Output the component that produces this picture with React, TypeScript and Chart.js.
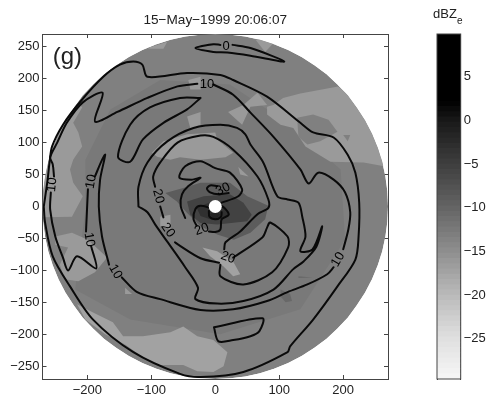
import React, { useEffect, useRef } from "react";
import { Chart, registerables } from "chart.js";

Chart.register(...registerables);

type P = [number, number];

const titleText = "15\u2212May\u22121999 20:06:07";
const panelLabel = "(g)";
const colorbarTitle = "dBZ";
const colorbarSub = "e";

const xTickValues = [-200, -100, 0, 100, 200];
const yTickValues = [-250, -200, -150, -100, -50, 0, 50, 100, 150, 200, 250];
const colorbarTickValues = [-25, -20, -15, -10, -5, 0, 5];

const discEdge: P[] = [
  [270, 0], [269, 24], [266, 47], [261, 70], [254, 92], [245, 114], [234, 135], [221, 155], [207, 174], [191, 191], [174, 207], [155, 221], [135, 234], [114, 245], [92, 254], [70, 261], [47, 266], [24, 269],
  [0, 270], [-24, 269], [-47, 266], [-70, 261], [-92, 254], [-114, 245], [-135, 234], [-155, 221], [-174, 207], [-191, 191], [-207, 174], [-221, 155], [-234, 135], [-245, 114], [-254, 92], [-261, 70], [-266, 47], [-269, 24],
  [-270, 0], [-269, -24], [-266, -47], [-261, -70], [-254, -92], [-245, -114], [-234, -135], [-221, -155], [-207, -174], [-191, -191], [-174, -207], [-155, -221], [-135, -234], [-114, -245], [-92, -254], [-70, -261], [-47, -266], [-24, -269],
  [0, -270], [24, -269], [47, -266], [70, -261], [92, -254], [114, -245], [135, -234], [155, -221], [174, -207], [191, -191], [207, -174], [221, -155], [234, -135], [245, -114], [254, -92], [261, -70], [266, -47], [269, -24],
];
const interiorZone: P[] = [
  [-203, 73], [-164, 152], [-86, 198], [23, 191], [117, 128], [196, 58], [203, -52], [133, -161], [8, -200], [-133, -177], [-219, -130], [-203, -5],
];
const lightUpperLeft: P[] = [
  [-211, 159], [-208, 155], [-222, 131], [-214, 116], [-208, 94], [-219, 78], [-222, 73], [-227, 58], [-222, 37], [-207, 16], [-224, -16], [-270, -17], [-270, 27], [-265, 73], [-245, 122],
];
const lightLowerLeft: P[] = [
  [-250, -47], [-224, -41], [-199, -52], [-169, -80], [-188, -103], [-214, -117], [-235, -114], [-243, -91], [-230, -64], [-250, -60],
];
const lightBottomBand: P[] = [
  [-216, -153], [-191, -166], [-160, -181], [-144, -203], [-113, -203], [-70, -197], [-50, -188], [-28, -203], [-3, -209], [19, -228], [13, -250], [-3, -259], [-28, -258], [-50, -248], [-91, -248], [-113, -236], [-141, -216], [-172, -200], [-203, -177],
];
const lightTopLeftChip: P[] = [[-106, 248], [-75, 258], [-81, 247], [-102, 247]];
const lightTopRightChip: P[] = [[63, 261], [78, 264], [91, 256], [78, 242]];
const lightMidPatch: P[] = [[20, 148], [44, 159], [66, 178], [81, 159], [55, 156], [42, 128]];
const lightRightBand: P[] = [
  [81, 156], [91, 159], [106, 170], [133, 177], [192, 188], [227, 163], [254, 105], [264, 63], [232, 69], [180, 70], [141, 94], [122, 123], [102, 128], [81, 144],
];
const rightBandHole: P[] = [[128, 139], [153, 144], [177, 136], [191, 117], [164, 102], [144, 97], [130, 109]];
const rightBandChip: P[] = [[200, 112], [211, 112], [207, 102]];
const lightArc: P[] = [
  [-99, 84], [-81, 102], [-44, 113], [0, 116], [3, 105], [28, 84], [16, 77], [-23, 73], [-55, 77], [-70, 73], [-91, 78],
];
const lightChipA: P[] = [[-44, 141], [-23, 148], [-23, 125], [-39, 123]];
const lightChipB: P[] = [[-42, 198], [-23, 203], [-23, 183], [-39, 183]];
const lightChipC: P[] = [[36, 62], [52, 47], [39, 50]];
const lightStreak: P[] = [[-20, -64], [3, -70], [28, -86], [39, -106], [28, -109], [13, -94], [-8, -78]];
const lightChipD: P[] = [[-86, -16], [-70, -13], [-70, -36], [-86, -31]];
const lightChipE: P[] = [[-141, -127], [-130, -137], [-141, -137]];
const darkSpeck: P[] = [[102, -130], [117, -137], [120, -148], [110, -150], [102, -141]];
const darkSliver: P[] = [[130, -109], [152, -111], [130, -112]];
const coreOuter: P[] = [
  [-78, 21], [-50, 29], [-23, 37], [23, 37], [50, 16], [83, 1], [78, -20], [55, -41], [29, -52], [3, -44], [-23, -31], [-44, -10], [-60, 8],
];
const coreMid: P[] = [[-44, 8], [-18, 16], [23, 19], [44, 6], [57, -13], [50, -23], [3, -28], [-23, -26], [-39, -13]];
const coreInner: P[] = [[-29, -2], [-10, 6], [13, 1], [23, -13], [10, -20], [-8, -20], [-23, -15]];
const coreDot: P[] = [[-9, -13], [0, -7], [8, -13], [0, -20]];

const contourOuter: P[] = [
  [-268, 0], [-262, 42], [-259, 69], [-255, 94], [-238, 128], [-211, 164], [-175, 203], [-149, 222], [-128, 227], [-114, 222], [-106, 203], [-44, 209], [8, 206], [28, 198], [81, 172], [133, 131], [153, 116], [185, 108], [207, 81], [219, 53], [225, 6], [224, -47], [219, -83], [191, -125], [153, -177], [117, -219], [113, -228], [44, -259], [-23, -267], [-55, -262], [-128, -228], [-191, -177], [-227, -125], [-254, -78], [-266, -25], [-268, 0],
];
const contour10a: P[] = [
  [-28, 192], [-59, 188], [-106, 170], [-153, 148], [-188, 133], [-176, 178], [-207, 163], [-232, 131], [-247, 100], [-258, 77], [-254, 66], [-252, 47],
];
const contour10b: P[] = [[-257, 22], [-258, -5], [-250, -47], [-238, -80], [-230, -100], [-216, -78], [-186, -97], [-194, -62]];
const contour10c: P[] = [[-202, -39], [-199, 27]];
const contour10d: P[] = [[-188, 47], [-177, 73], [-172, 81], [-180, 42], [-182, 0], [-177, -47], [-166, -91]];
const contour10e: P[] = [
  [-146, -111], [-122, -134], [-86, -145], [-23, -162], [28, -161], [81, -148], [113, -134], [144, -122], [175, -106], [185, -95],
];
const contour10f: P[] = [
  [200, -67], [208, -36], [211, -9], [203, 22], [185, 42], [161, 53], [146, 36], [133, 58], [91, 109], [55, 147], [28, 175], [-3, 191],
];
const contourCrescent: P[] = [
  [-23, 170], [-55, 170], [-102, 155], [-133, 128], [-152, 78], [-133, 70], [-113, 105], [-81, 131], [-44, 152], [-23, 170],
];
const contourBox: P[] = [[-2, -189], [74, -175], [69, -195], [55, -203], [28, -209], [5, -211], [-2, -189]];
const contourLens: P[] = [[27, 253], [55, 248], [108, 227], [55, 236], [19, 241], [-3, 242], [-31, 248], [-3, 254], [8, 253]];
const contour20Arc: P[] = [
  [-120, 0], [-120, 31], [-106, 69], [-75, 102], [-34, 123], [8, 128], [34, 123], [47, 113], [55, 97], [75, 69], [97, 16], [113, 11], [130, 6], [136, -16], [141, -47], [133, -70], [152, -67], [167, -31], [158, -63], [138, -86], [122, -98], [91, -130], [44, -148], [3, -152], [-31, -145], [-27, -127], [-47, -95], [-75, -55], [-94, -28], [-106, -9], [-120, 0],
];
const contour20a: P[] = [
  [14, -67], [16, -56], [39, -39], [66, -12], [83, -2], [83, 11], [66, 47], [28, 89], [-3, 109], [-23, 111], [-59, 100], [-86, 69], [-97, 47], [-94, 31],
];
const contour20b: P[] = [[-86, 0], [-81, -17]];
const contour20c: P[] = [[-63, -56], [-59, -59], [-23, -81], [6, -88]];
const contour20d: P[] = [[28, -80], [74, -48], [81, -33], [86, -25], [113, -47], [114, -64], [89, -103], [44, -122], [8, -109], [8, -91]];
const contourCore: P[] = [
  [-47, -18], [-54, 1], [-52, 19], [-42, 32], [-23, 45], [-37, 42], [-56, 45], [-47, 63], [-23, 71], [0, 60], [23, 53], [42, 27], [36, 16], [10, 6],
];
const contour30: P[] = [[3, 32], [-8, 33], [-13, 28], [-8, 22], [5, 19], [21, 21]];
const contourLowA: P[] = [[-8, -2], [-23, 1], [-31, -4], [-34, -20], [-29, -30]];
const contourLowB: P[] = [[-10, -39], [0, -40], [8, -36], [10, -20], [21, -13], [14, -2], [5, 3]];
const contourRing: P[] = [[-10, -7], [-9, -16], [0, -20], [9, -16], [10, -9]];
const centerPoint: P[] = [[0, 0]];

const labelTexts = ["0", "10", "10", "10", "10", "10", "10", "20", "20", "20", "20", "30"];
const labelX = [17, -13, -255, -194, -197, -156, 192, -89, -74, 20, -21, 12];
const labelY = [251, 191, 34, 39, -52, -102, -83, 16, -37, -80, -36, 27];
const labelAngle = [0, 0, -85, -80, 80, 60, -60, 75, 55, 20, -20, -25];

const barEdges = [
  -29.6, -29, -28.4, -27.8, -27.2, -26.6, -26, -25.4, -24.8, -24.2, -23.6, -23, -22.4, -21.8, -21.2, -20.6, -20, -19.4, -18.8, -18.2, -17.6, -17, -16.4, -15.8, -15.2, -14.6, -14, -13.4, -12.8, -12.2, -11.6, -11, -10.4, -9.8, -9.2, -8.6, -8, -7.4, -6.8, -6.2, -5.6, -5, -4.4, -3.8, -3.2, -2.6, -2, -1.4, -0.8, -0.2, 0.4, 1, 1.6, 2.2, 9.9,
];
const grayStops: P[] = [[-29.6, 246], [-25, 224], [-20, 186], [-15, 142], [-10, 100], [-5, 62], [0, 24], [2.2, 0], [9.9, 0]];

const BASE = "#808080";
const INTERIOR = "#797979";
const LIGHT = "#9a9a9a";
const LIGHTER = "#a2a2a2";

const regions: { pts: P[]; color: string }[] = [
  { pts: discEdge, color: BASE },
  { pts: interiorZone, color: INTERIOR },
  { pts: lightUpperLeft, color: LIGHT },
  { pts: lightLowerLeft, color: LIGHT },
  { pts: lightBottomBand, color: LIGHTER },
  { pts: lightTopLeftChip, color: LIGHT },
  { pts: lightTopRightChip, color: LIGHT },
  { pts: lightMidPatch, color: LIGHT },
  { pts: lightRightBand, color: LIGHT },
  { pts: rightBandHole, color: BASE },
  { pts: rightBandChip, color: BASE },
  { pts: lightArc, color: LIGHT },
  { pts: lightChipA, color: LIGHT },
  { pts: lightChipB, color: LIGHT },
  { pts: lightChipC, color: LIGHT },
  { pts: lightStreak, color: LIGHTER },
  { pts: lightChipD, color: LIGHT },
  { pts: lightChipE, color: LIGHT },
  { pts: darkSpeck, color: "#686868" },
  { pts: darkSliver, color: "#686868" },
  { pts: coreOuter, color: "#5c5c5c" },
  { pts: coreMid, color: "#424242" },
  { pts: coreInner, color: "#303030" },
  { pts: coreDot, color: "#242424" },
];

const contours: P[][] = [
  contourOuter, contour10a, contour10b, contour10c, contour10d, contour10e, contour10f, contourCrescent, contourBox, contourLens,
  contour20Arc, contour20a, contour20b, contour20c, contour20d, contourCore, contour30, contourLowA, contourLowB, contourRing,
];

const toXY = (pts: P[]) => pts.map(([x, y]) => ({ x, y }));
const FONT = "'Liberation Sans', Arial, sans-serif";
const minus = (v: number | string) => String(v).replace("-", "\u2212");

const grayAt = (v: number) => {
  for (let i = 1; i < grayStops.length; i++) {
    const [a, ga] = grayStops[i - 1];
    const [b, gb] = grayStops[i];
    if (v <= b) {
      const g = Math.round(ga + ((v - a) / (b - a)) * (gb - ga));
      return `rgb(${g},${g},${g})`;
    }
  }
  return "#000";
};

const polygonPlugin = {
  id: "polygonFill",
  beforeDatasetDraw(chart: any, args: any) {
    const ds = chart.data.datasets[args.index] as any;
    if (!ds.polygonColor) return;
    const pts = args.meta.data;
    const { ctx, scales } = chart;
    ctx.save();
    ctx.beginPath();
    discEdge.forEach(([x, y], i) => {
      const px = scales.x.getPixelForValue(x);
      const py = scales.y.getPixelForValue(y);
      if (i) ctx.lineTo(px, py);
      else ctx.moveTo(px, py);
    });
    ctx.closePath();
    ctx.clip();
    ctx.beginPath();
    pts.forEach((p: any, i: number) => (i ? ctx.lineTo(p.x, p.y) : ctx.moveTo(p.x, p.y)));
    ctx.closePath();
    ctx.fillStyle = ds.polygonColor;
    ctx.fill();
    ctx.restore();
  },
};

const labelPlugin = {
  id: "contourText",
  afterDatasetsDraw(chart: any) {
    const { ctx, scales } = chart;
    ctx.save();
    ctx.fillStyle = "#000";
    ctx.textAlign = "center";
    ctx.textBaseline = "middle";
    ctx.font = `13px ${FONT}`;
    labelTexts.forEach((t, i) => {
      ctx.save();
      ctx.translate(scales.x.getPixelForValue(labelX[i]), scales.y.getPixelForValue(labelY[i]));
      ctx.rotate((labelAngle[i] * Math.PI) / 180);
      ctx.fillText(t, 0, 0);
      ctx.restore();
    });
    ctx.font = `24px ${FONT}`;
    ctx.textAlign = "left";
    ctx.fillStyle = "#222";
    ctx.fillText(panelLabel, scales.x.getPixelForValue(-254), scales.y.getPixelForValue(233));
    ctx.restore();
  },
};

const barTitlePlugin = {
  id: "barTitle",
  afterDraw(chart: any) {
    const { ctx, chartArea: a } = chart;
    ctx.save();
    ctx.strokeStyle = "#444";
    ctx.lineWidth = 1;
    ctx.strokeRect(a.left, a.top, a.right - a.left, a.bottom - a.top);
    ctx.fillStyle = "#222";
    ctx.textBaseline = "alphabetic";
    ctx.font = `13px ${FONT}`;
    ctx.fillText(colorbarTitle, 33, 18);
    ctx.font = `10px ${FONT}`;
    ctx.fillText(colorbarSub, 57, 24);
    ctx.restore();
  },
};

const fixedTicks = (values: number[]) => (scale: any) => {
  scale.ticks = values.map((value) => ({ value }));
};

const tickFont = { family: FONT, size: 13 };

export default function App() {
  const mainRef = useRef<HTMLCanvasElement>(null);
  const barRef = useRef<HTMLCanvasElement>(null);

  useEffect(() => {
    const polygonSets = regions.map((r) => ({
      type: "line" as const,
      data: toXY(r.pts),
      polygonColor: r.color,
      borderWidth: 0,
      pointRadius: 0,
      showLine: false,
      xAxisID: "x",
      yAxisID: "y",
    }));
    const lineSets = contours.map((c) => ({
      type: "line" as const,
      data: toXY(c),
      borderColor: "#0a0a0a",
      borderWidth: 2,
      borderJoinStyle: "round" as const,
      borderCapStyle: "round" as const,
      pointRadius: 0,
      tension: 0.3,
      fill: false,
      xAxisID: "x",
      yAxisID: "y",
    }));
    const center = {
      type: "scatter" as const,
      data: toXY(centerPoint),
      pointRadius: 6.5,
      pointBackgroundColor: "#fff",
      pointBorderWidth: 0,
      xAxisID: "x",
      yAxisID: "y",
    };
    // Chart.js paints the first dataset last, so the list runs from top layer to bottom layer.
    const datasets = [center, ...lineSets.reverse(), ...polygonSets.reverse()];

    const axisCommon = {
      type: "linear" as const,
      min: -270,
      max: 270,
      border: { display: true, color: "#444", width: 1 },
    };
    const inwardGrid = { drawOnChartArea: false, drawTicks: true, tickLength: -4, color: "#444" };

    const main = new Chart(mainRef.current!, {
      type: "line",
      data: { datasets: datasets as any },
      plugins: [polygonPlugin, labelPlugin],
      options: {
        responsive: false,
        animation: false,
        parsing: false,
        normalized: false,
        layout: { padding: { top: 0, right: 101, left: 0, bottom: 0 } },
        plugins: {
          legend: { display: false },
          tooltip: { enabled: false },
          title: {
            display: true,
            text: titleText,
            fullSize: false,
            color: "#222",
            font: { family: FONT, size: 13.6, weight: "normal" },
            padding: { top: 12, bottom: 5.7 },
          },
        },
        scales: {
          x: {
            ...axisCommon,
            position: "bottom",
            grid: inwardGrid,
            afterBuildTicks: fixedTicks(xTickValues),
            afterFit: (s: any) => { s.height = 21; },
            ticks: { font: tickFont, color: "#222", padding: 8, maxRotation: 0, autoSkip: false, callback: minus },
          },
          y: {
            ...axisCommon,
            position: "left",
            grid: inwardGrid,
            afterBuildTicks: fixedTicks(yTickValues),
            afterFit: (s: any) => { s.width = 42.5; },
            ticks: { font: tickFont, color: "#222", padding: 7, autoSkip: false, callback: minus },
          },
          xTop: {
            ...axisCommon,
            axis: "x",
            position: "top",
            grid: inwardGrid,
            afterBuildTicks: fixedTicks(xTickValues),
            afterFit: (s: any) => { s.height = 0; },
            ticks: { display: false },
          },
          yRight: {
            ...axisCommon,
            axis: "y",
            position: "right",
            grid: inwardGrid,
            afterBuildTicks: fixedTicks(yTickValues),
            afterFit: (s: any) => { s.width = 0; },
            ticks: { display: false },
          },
        } as any,
      },
    });

    const bands = barEdges.slice(0, -1);
    const bar = new Chart(barRef.current!, {
      type: "bar",
      data: {
        labels: [colorbarTitle],
        datasets: bands.map((b, i) => ({
          data: [[b, barEdges[i + 1]]] as any,
          backgroundColor: grayAt((b + barEdges[i + 1]) / 2),
          borderWidth: 0,
          inflateAmount: 0.5,
          barPercentage: 1,
          categoryPercentage: 1,
          grouped: false,
          xAxisID: "x",
          yAxisID: "y",
        })) as any,
      },
      plugins: [barTitlePlugin],
      options: {
        responsive: false,
        animation: false,
        layout: { padding: { top: 34, left: 37, right: 0, bottom: 0 } },
        plugins: { legend: { display: false }, tooltip: { enabled: false } },
        scales: {
          x: {
            display: false,
            afterFit: (s: any) => { s.height = 21; },
          },
          y: {
            type: "linear",
            position: "right",
            min: -29.6,
            max: 9.9,
            border: { display: true, color: "#444", width: 1 },
            grid: { drawOnChartArea: false, drawTicks: true, tickLength: -4, color: "#444" },
            afterBuildTicks: fixedTicks(colorbarTickValues),
            afterFit: (s: any) => { s.width = 28.3; },
            ticks: { font: tickFont, color: "#222", padding: 7, autoSkip: false, callback: minus },
          },
          yLeft: {
            type: "linear",
            axis: "y",
            position: "left",
            min: -29.6,
            max: 9.9,
            border: { display: true, color: "#444", width: 1 },
            grid: { drawOnChartArea: false, drawTicks: true, tickLength: -4, color: "#444" },
            afterBuildTicks: fixedTicks(colorbarTickValues),
            afterFit: (s: any) => { s.width = 0; },
            ticks: { display: false },
          },
        } as any,
      },
    });

    return () => {
      main.destroy();
      bar.destroy();
    };
  }, []);

  return (
    <div style={{ position: "absolute", left: 0, top: 0, width: 489, height: 400, background: "#fff" }}>
      <canvas ref={mainRef} width={489} height={400} style={{ position: "absolute", left: 0, top: 0, width: 489, height: 400 }} />
      <canvas ref={barRef} width={89} height={400} style={{ position: "absolute", left: 400, top: 0, width: 89, height: 400 }} />
    </div>
  );
}
